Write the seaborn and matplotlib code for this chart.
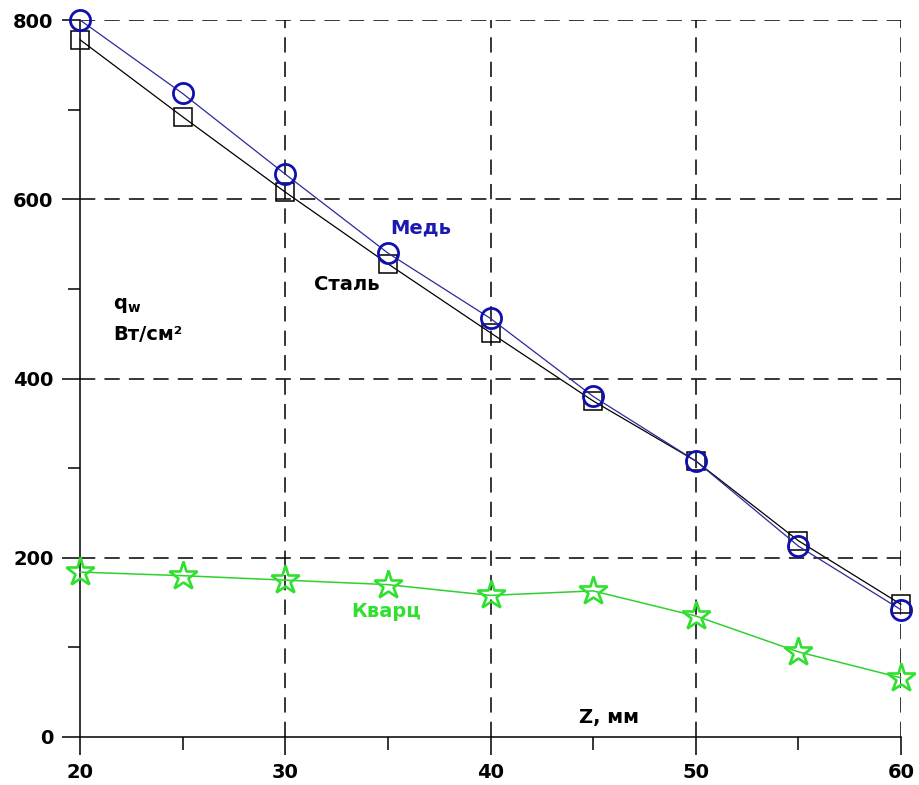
import matplotlib
matplotlib.use("Agg")
import matplotlib.pyplot as plt
import seaborn as sns
import pandas as pd
from matplotlib.ticker import MultipleLocator

z = [20, 25, 30, 35, 40, 45, 50, 55, 60]
med = [800, 718, 628, 540, 467, 380, 308, 213, 142]
stal = [778, 692, 608, 528, 451, 375, 308, 219, 148]
kvarc = [184, 180, 175, 170, 158, 163, 135, 95, 66]

sns.set_style("white")
plt.rcParams['font.family'] = ['DejaVu Sans']

fig = plt.figure(figsize=(9.2, 7.85), dpi=100)
ax = fig.add_axes([80/920, 1-737/785, (901-80)/920, (737-20)/785])

df = pd.DataFrame({"z": z, "med": med, "stal": stal, "kvarc": kvarc})

sns.lineplot(data=df, x="z", y="stal", ax=ax, color="black", lw=0.9,
             marker="s", markersize=13, markerfacecolor="none",
             markeredgecolor="black", markeredgewidth=1.1, zorder=3, clip_on=False)
sns.lineplot(data=df, x="z", y="med", ax=ax, color="#2a2a9a", lw=0.9,
             marker="o", markersize=14.5, markerfacecolor="none",
             markeredgecolor="#1010b0", markeredgewidth=2.0, zorder=4, clip_on=False)
sns.lineplot(data=df, x="z", y="kvarc", ax=ax, color="#30d030", lw=1.1,
             marker="*", markersize=21, markerfacecolor="none",
             markeredgecolor="#30e030", markeredgewidth=1.9, zorder=4, clip_on=False)

ax.set_xlim(20, 60)
ax.set_ylim(0, 800)
ax.xaxis.set_major_locator(MultipleLocator(10))
ax.xaxis.set_minor_locator(MultipleLocator(5))
ax.yaxis.set_major_locator(MultipleLocator(200))
ax.yaxis.set_minor_locator(MultipleLocator(100))

for v in [30, 40, 50, 60]:
    ax.axvline(v, color="black", lw=1.1, ls=(0, (10, 6)), zorder=1)
for v in [200, 400, 600, 800]:
    ax.axhline(v, color="black", lw=1.1, ls=(0, (10, 6)), zorder=1)

for s in ["top", "right"]:
    ax.spines[s].set_visible(False)
for s in ["left", "bottom"]:
    ax.spines[s].set_color("black")
    ax.spines[s].set_linewidth(1.1)

ax.tick_params(axis="both", which="major", direction="out", length=13, width=1.1,
               color="black", labelcolor="black", labelsize=14, pad=6, left=True, bottom=True)
ax.tick_params(axis="both", which="minor", direction="out", length=9, width=1.1,
               color="black", left=True, bottom=True)
for lab in ax.get_xticklabels() + ax.get_yticklabels():
    lab.set_fontweight("bold")

ax.set_xlabel("")
ax.set_ylabel("")

fs = 14
ax.text(35.1, 568, "Медь", color="#1a1ab0", fontsize=fs, fontweight="bold", ha="left", va="center")
ax.text(31.4, 505, "Сталь", color="black", fontsize=fs, fontweight="bold", ha="left", va="center")
ax.text(33.2, 140, "Кварц", color="#30e030", fontsize=fs, fontweight="bold", ha="left", va="center")
ax.text(21.6, 482, "q$_{\\mathregular{w}}$", color="black", fontsize=fs, fontweight="bold", ha="left", va="center")
ax.text(21.6, 449, "Вт/см²", color="black", fontsize=fs, fontweight="bold", ha="left", va="center")
ax.text(44.3, 22, "Z, мм", color="black", fontsize=fs, fontweight="bold", ha="left", va="center")

fig.savefig("out.png", dpi=100, facecolor="white")
